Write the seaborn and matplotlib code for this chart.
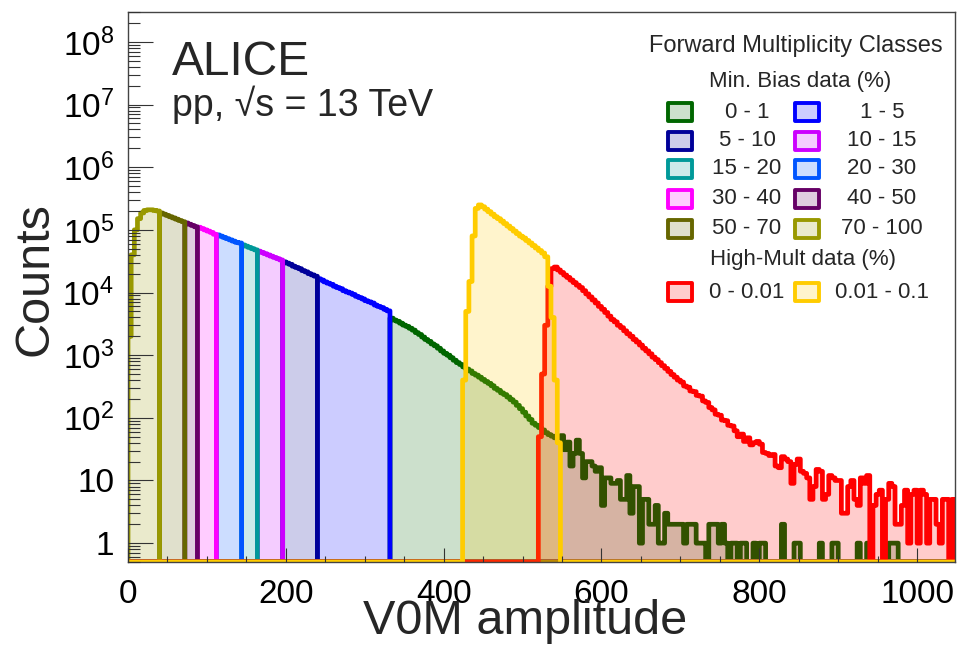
import numpy as np
import matplotlib
matplotlib.use("Agg")
import matplotlib.pyplot as plt
import seaborn as sns
from matplotlib.colors import to_rgba
from matplotlib.patches import Rectangle
from matplotlib.ticker import FixedLocator, FuncFormatter, NullFormatter

# ---------------------------------------------------------------- data ----
BIN_WIDTH = 4          # V0M amplitude units per bin
X_MAX = 1048
Y_MIN, Y_MAX = 0.5, 3e8

# Minimum-bias V0M amplitude distribution (counts per bin, bins start at 0)
mb_counts = [
    2000, 40000, 100000, 151000, 186000, 204000, 209000, 209000, 204000, 200000,
    186000, 178000, 170000, 162000, 155000, 148000, 141000, 135000, 129000, 123000,
    117500, 112000, 110000, 105000, 100000, 95500, 91000, 85000, 83000, 79400,
    75900, 72400, 69200, 66100, 63100, 61700, 57500, 55000, 52500, 50100,
    47900, 45700, 43700, 41700, 39800, 38000, 36300, 34700, 33100, 30900,
    29500, 28200, 26300, 25100, 24000, 22400, 21400, 20000, 19100, 18200,
    16600, 15800, 14800, 14100, 13500, 12600, 12000, 11500, 10700, 10200,
    9800, 9300, 8700, 8300, 7900, 7400, 7100, 6800, 6300, 6000,
    5750, 5400, 5100, 3900, 3630, 3470, 3240, 3020, 2880, 2690,
    2510, 2290, 2140, 1950, 1780, 1660, 1510, 1410, 1290, 1170,
    1070, 1000, 910, 830, 760, 710, 650, 600, 560, 510,
    480, 445, 410, 380, 355, 325, 295, 275, 250, 235,
    215, 195, 178, 158, 140, 123, 107, 94, 82, 76,
    70, 64, 58, 54, 51, 48, 45, 52, 31, 41,
    17, 27, 44, 27, 11, 20, 20, 17, 14, 16,
    4, 11, 11, 9, 9, 10, 5, 5, 12, 3,
    8, 8, 1, 5, 5, 2, 2, 4, 1, 1,
    3, 2, 2, 2, 2, 2, 1, 2, 2, 2,
    1, 1, 1, 0, 2, 2, 2, 1, 2, 1,
    0, 1, 1, 0, 1, 1, 0, 0, 1, 0,
    1, 1, 0, 0, 0, 0, 0, 2, 0, 0,
    0, 1, 1, 0, 0, 0, 0, 0, 0, 1,
    0, 0, 0, 1, 1, 0, 0, 0, 0, 0,
    0, 1, 0, 0, 1, 0, 0, 0, 0, 0,
    0, 1, 1, 1, 0, 0, 0, 0, 0, 0,
    0, 0, 0, 0, 0, 0, 0, 0, 0, 0,
    0, 0,
]

# Forward multiplicity classes (percentiles) and their V0M amplitude ranges
mb_labels = ["0 - 1", "1 - 5", "5 - 10", "10 - 15", "15 - 20",
             "20 - 30", "30 - 40", "40 - 50", "50 - 70", "70 - 100"]
mb_low = [332, 240, 196, 164, 144, 112, 88, 72, 40, 0]
mb_high = [1048, 332, 240, 196, 164, 144, 112, 88, 72, 40]
mb_colors = ["#006600", "#0000ff", "#000099", "#cc00ff", "#009999",
             "#0055ff", "#ff00ff", "#660066", "#666600", "#999900"]

# High-multiplicity triggered data
hm_labels = ["0 - 0.01", "0.01 - 0.1"]
hm_colors = ["#ff0000", "#ffcc00"]
hm_red_start = 520
hm_red_counts = [
    50, 500, 3000, 12600, 24000, 25500, 22900, 20900, 19000, 17400,
    15800, 14400, 13100, 12000, 10700, 9500, 8500, 7600, 6800, 6000,
    5400, 4800, 4200, 3700, 3400, 3000, 2750, 2450, 2200, 2000,
    1780, 1620, 1450, 1290, 1170, 1050, 930, 850, 760, 680,
    615, 550, 490, 445, 400, 372, 322, 308, 268, 262,
    228, 222, 186, 176, 146, 134, 114, 110, 92, 90,
    76, 74, 62, 50, 55, 42, 48, 37, 40, 42,
    38, 28, 27, 25, 26, 17, 16, 24, 22, 20,
    9, 18, 22, 14, 13, 11, 5, 8, 15, 14,
    5, 6, 12, 11, 10, 10, 3, 3, 8, 10,
    5, 4, 11, 9, 12, 0, 4, 6, 7, 0,
    5, 9, 8, 2, 2, 4, 7, 1, 6, 7,
    1, 7, 6, 1, 5, 5, 2, 1, 5, 5,
    0, 5,
]
hm_yellow_start = 424
hm_yellow_counts = [
    400, 5000, 15000, 80000, 220000, 250000, 234000, 214000, 195000, 178000,
    162000, 151000, 138000, 126000, 115000, 105000, 95500, 87100, 79400, 74100,
    67600, 61700, 56200, 51300, 46800, 42700, 37200, 12600, 4000, 400,
    40,
]

y_major = [1, 10, 1e2, 1e3, 1e4, 1e5, 1e6, 1e7, 1e8]
x_major = [0, 200, 400, 600, 800, 1000]

# ------------------------------------------------------------- helpers ----
n_bins = len(mb_counts)
edges = np.arange(n_bins + 1) * BIN_WIDTH
left = edges[:-1]
centers = left + BIN_WIDTH / 2
mb = np.asarray(mb_counts, dtype=float)


def full_hist(start, counts):
    h = np.zeros(n_bins)
    i0 = start // BIN_WIDTH
    h[i0:i0 + len(counts)] = counts
    return h


def draw_hist(ax, counts, color):
    # empty bins sit on the lower frame, as in a ROOT "hist" drawing
    w = np.maximum(counts, Y_MIN)
    sns.histplot(x=centers, weights=w, binwidth=BIN_WIDTH,
                 binrange=(0, edges[-1]), element="step", fill=True,
                 color=color, alpha=0.2, linewidth=3.4, ax=ax)


# --------------------------------------------------------------- style ----
sns.set_style("white")
plt.rcParams["font.family"] = ["Liberation Sans", "DejaVu Sans"]
plt.rcParams["mathtext.fontset"] = "custom"
plt.rcParams["mathtext.rm"] = "Liberation Sans"
plt.rcParams["mathtext.it"] = "Liberation Sans:italic"
plt.rcParams["axes.unicode_minus"] = False

W, H = 959, 648
fig = plt.figure(figsize=(W / 100, H / 100), dpi=100)
fig.patch.set_facecolor("white")
ax = fig.add_axes([128 / W, (H - 562) / H, (955 - 128) / W, (562 - 12) / H])
ax.set_facecolor("white")

for lo, hi, c in zip(mb_low, mb_high, mb_colors):
    draw_hist(ax, np.where((left >= lo) & (left < hi), mb, 0.0), c)
draw_hist(ax, full_hist(hm_red_start, hm_red_counts), hm_colors[0])
draw_hist(ax, full_hist(hm_yellow_start, hm_yellow_counts), hm_colors[1])

ax.set_yscale("log")
ax.set_xlim(0, X_MAX)
ax.set_ylim(Y_MIN, Y_MAX)
ax.set_axisbelow(False)

y_minor = [m * 10.0 ** d for d in range(-1, 9) for m in range(2, 10)
           if Y_MIN <= m * 10.0 ** d <= Y_MAX]
ax.xaxis.set_major_locator(FixedLocator(x_major))
ax.xaxis.set_minor_locator(FixedLocator(np.arange(0, X_MAX, 50)))
ax.yaxis.set_major_locator(FixedLocator(y_major))
ax.yaxis.set_minor_locator(FixedLocator(y_minor))


def ylab(v, _pos):
    n = int(round(np.log10(v)))
    if n == 0:
        return "1"
    if n == 1:
        return "10"
    return r"$\mathregular{10^{%d}}$" % n


ax.yaxis.set_major_formatter(FuncFormatter(ylab))
ax.yaxis.set_minor_formatter(NullFormatter())
ax.xaxis.set_major_formatter(FuncFormatter(lambda v, p: "%d" % v))
ax.xaxis.set_minor_formatter(NullFormatter())

ax.tick_params(axis="both", which="both", direction="in", colors="#333333",
               labelcolor="black", width=0.8, left=True, bottom=True,
               top=False, right=False)
ax.tick_params(axis="y", which="major", length=18, pad=10, labelsize=24)
ax.tick_params(axis="y", which="minor", length=8.6)
ax.tick_params(axis="x", which="major", length=10, pad=12.5, labelsize=24)
ax.tick_params(axis="x", which="minor", length=4.3)
for s in ax.spines.values():
    s.set_color("#444444")
    s.set_linewidth(1.0)
    s.set_visible(True)

ax.set_xlabel("V0M amplitude", fontsize=35)
ax.set_ylabel("Counts", fontsize=35)
ax.xaxis.set_label_coords((525 - 128) / 827, -0.068)
ax.yaxis.set_label_coords(-0.085, 0.515)


def fpos(x, y):
    return x / W, 1 - y / H


fig.text(*fpos(172, 75), "ALICE", fontsize=34.5, ha="left", va="baseline")
fig.text(*fpos(172, 116), "pp, √s = 13 TeV", fontsize=27, ha="left", va="baseline")

# legend block
fig.text(*fpos(796, 46), "Forward Multiplicity Classes", fontsize=17,
         ha="center", va="center")
fig.text(*fpos(800, 82), "Min. Bias data (%)", fontsize=16, ha="center", va="center")
fig.text(*fpos(803, 259), "High-Mult data (%)", fontsize=16, ha="center", va="center")

row_y = [112, 141, 169, 199, 229]
box_x = [668, 795]
lab_x = [747, 882]


def legend_entry(bx, lx, y, label, color):
    fig.add_artist(Rectangle(fpos(bx, y + 9), 24 / W, 18 / H,
                             transform=fig.transFigure,
                             facecolor=to_rgba(color, 0.2), edgecolor=color,
                             linewidth=2.8, joinstyle="round"))
    fig.text(*fpos(lx, y), label, fontsize=16, ha="center", va="center")


for i, (lab, c) in enumerate(zip(mb_labels, mb_colors)):
    legend_entry(box_x[i % 2], lab_x[i % 2], row_y[i // 2], lab, c)
for i, (lab, c) in enumerate(zip(hm_labels, hm_colors)):
    legend_entry(box_x[i], lab_x[i], 292, lab, c)

fig.savefig("out.png", dpi=100)
